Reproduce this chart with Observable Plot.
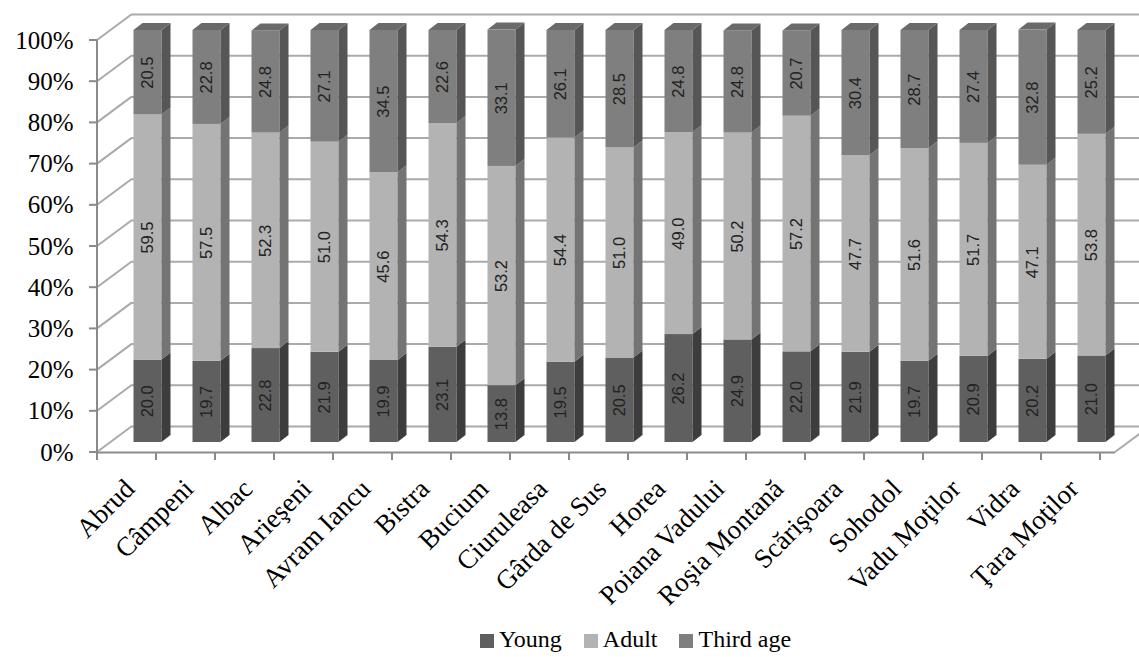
<!DOCTYPE html>
<html>
<head>
<meta charset="utf-8">
<script src="https://cdn.jsdelivr.net/npm/d3@7"></script>
<script src="https://cdn.jsdelivr.net/npm/@observablehq/plot@0.6"></script>
<style>
  body { margin: 0; background: #fff; }
  #chart { width: 1139px; }
  #chart svg { display: block; overflow: visible; }
  .legend {
    width: 1139px; box-sizing: border-box; padding-left: 132px;
    display: flex; justify-content: center; align-items: center; gap: 22px;
    font-family: "Liberation Serif", "Times New Roman", serif; font-size: 24px; color: #000;
    margin-top: 13px; line-height: 28px;
  }
  .legend span.item { display: inline-flex; align-items: center; }
  .legend i { display: inline-block; width: 14px; height: 14px; margin-right: 5px; margin-top: 3px; }
</style>
</head>
<body>
<div id="chart"></div>
<script>
// Share of population by age group in the communes of Ţara Moţilor (%)
const places = ["Abrud", "Câmpeni", "Albac", "Arieşeni", "Avram Iancu", "Bistra", "Bucium",
  "Ciuruleasa", "Gârda de Sus", "Horea", "Poiana Vadului", "Roşia Montană", "Scărişoara",
  "Sohodol", "Vadu Moţilor", "Vidra", "Ţara Moţilor"];
const groups = ["Young", "Adult", "Third age"];
const young = [20.0, 19.7, 22.8, 21.9, 19.9, 23.1, 13.8, 19.5, 20.5, 26.2, 24.9, 22.0, 21.9, 19.7, 20.9, 20.2, 21.0];
const adult = [59.5, 57.5, 52.3, 51.0, 45.6, 54.3, 53.2, 54.4, 51.0, 49.0, 50.2, 57.2, 47.7, 51.6, 51.7, 47.1, 53.8];
const thirdAge = [20.5, 22.8, 24.8, 27.1, 34.5, 22.6, 33.1, 26.1, 28.5, 24.8, 24.8, 20.7, 30.4, 28.7, 27.4, 32.8, 25.2];
const yTicks = [0, 10, 20, 30, 40, 50, 60, 70, 80, 90, 100];

// Long table: one row per commune and age group, young at the bottom of the stack
const series = [young, adult, thirdAge];
const rows = groups.flatMap((group, k) => places.map((place, i) => ({place, group, value: series[k][i]})));

// Pseudo-3D look: back wall offset, bar depth position and bar thickness
const WALL = {dx: 35, dy: -26};
const BAR = {dx: 13, dy: -10};
const DEPTH = {dx: 9, dy: -7};
const INSET = 15.5;
const frontColors = ["#5f5f5f", "#b3b3b3", "#7f7f7f"];
const sideColors = ["#3d3d3d", "#747474", "#565656"];
const topColor = "#6a6a6a";
const gridColor = "#aaaaaa";
const axisColor = "#8a8a8a";
const serif = '"Liberation Serif", "Times New Roman", serif';

const chart = Plot.plot({
  width: 1139,
  height: 612,
  marginTop: 40,
  marginLeft: 97,
  marginRight: 24,
  marginBottom: 160,
  style: {fontFamily: serif, fontSize: "22px", color: "#000", background: "transparent"},
  x: {domain: places, padding: 0, axis: null},
  y: {domain: [0, 100], axis: null},
  color: {domain: groups, range: frontColors},
  marks: [
    // back wall grid
    Plot.ruleY(yTicks, {dx: WALL.dx, dy: WALL.dy, stroke: gridColor, strokeWidth: 2}),
    // front floor edge
    Plot.ruleY([0], {stroke: axisColor, strokeWidth: 2}),
    Plot.barY(rows, {x: "place", y: "value", fill: "group", insetLeft: INSET, insetRight: INSET, dx: BAR.dx, dy: BAR.dy}),
    Plot.text(rows, Plot.stackY({
      x: "place", y: "value", z: "group",
      text: d => d.value.toFixed(1),
      rotate: -90, dx: BAR.dx, dy: BAR.dy,
      fontFamily: '"Liberation Sans", Arial, sans-serif', fontSize: 16.5, fill: "#222"
    })),
    // y tick labels
    Plot.text(yTicks, {
      y: d => d, text: d => d + "%", frameAnchor: "left", textAnchor: "end", dx: -24,
      fontFamily: serif, fontSize: 25, fill: "#000", style: "letter-spacing:1.5px"
    }),
    // commune names
    Plot.text(places, {
      x: d => d, text: d => d, frameAnchor: "bottom", textAnchor: "end", rotate: -45,
      dx: 1, dy: 38, fontFamily: serif, fontSize: 27, fill: "#000"
    })
  ]
});

document.getElementById("chart").append(chart);

// Side faces, top faces, left wall and axis ticks, placed with the plot's own scales
const svg = d3.select(chart);
const xs = chart.scale("x"), ys = chart.scale("y");
const bw = xs.bandwidth;
const X0 = xs.range[0], X1 = xs.range[1];
const Y = v => ys.apply(v);
const poly = pts => pts.map(p => p.join(",")).join(" ");

const walls = svg.append("g").attr("stroke", gridColor).attr("stroke-width", 2);
yTicks.forEach(v => {
  walls.append("line").attr("x1", X0).attr("y1", Y(v)).attr("x2", X0 + WALL.dx).attr("y2", Y(v) + WALL.dy);
});
walls.append("line").attr("x1", X1).attr("y1", Y(0)).attr("x2", X1 + WALL.dx).attr("y2", Y(0) + WALL.dy);

const axes = svg.append("g").attr("stroke", axisColor).attr("stroke-width", 2);
axes.append("line").attr("x1", X0).attr("y1", Y(0)).attr("x2", X0).attr("y2", Y(100));
yTicks.forEach(v => {
  axes.append("line").attr("x1", X0 - 8).attr("y1", Y(v)).attr("x2", X0).attr("y2", Y(v));
});
for (let i = 0; i <= places.length; i++) {
  const x = X0 + i * bw;
  axes.append("line").attr("x1", x).attr("y1", Y(0)).attr("x2", x).attr("y2", Y(0) + 8);
}

const faces = svg.append("g");
places.forEach((place, i) => {
  const xl = xs.apply(place) + INSET + BAR.dx;
  const xr = xs.apply(place) + bw - INSET + BAR.dx;
  let base = 0;
  series.forEach((s, k) => {
    const ya = Y(base) + BAR.dy, yb = Y(base + s[i]) + BAR.dy;
    faces.append("polygon").attr("fill", sideColors[k])
      .attr("points", poly([[xr, ya], [xr, yb], [xr + DEPTH.dx, yb + DEPTH.dy], [xr + DEPTH.dx, ya + DEPTH.dy]]));
    base += s[i];
  });
  const yt = Y(base) + BAR.dy;
  faces.append("polygon").attr("fill", topColor)
    .attr("points", poly([[xl, yt], [xr, yt], [xr + DEPTH.dx, yt + DEPTH.dy], [xl + DEPTH.dx, yt + DEPTH.dy]]));
});

// Legend
const legend = d3.select("body").append("div").attr("class", "legend");
groups.forEach((g, k) => {
  const item = legend.append("span").attr("class", "item");
  item.append("i").style("background", frontColors[k]);
  item.append("span").text(g);
});
</script>
</body>
</html>
